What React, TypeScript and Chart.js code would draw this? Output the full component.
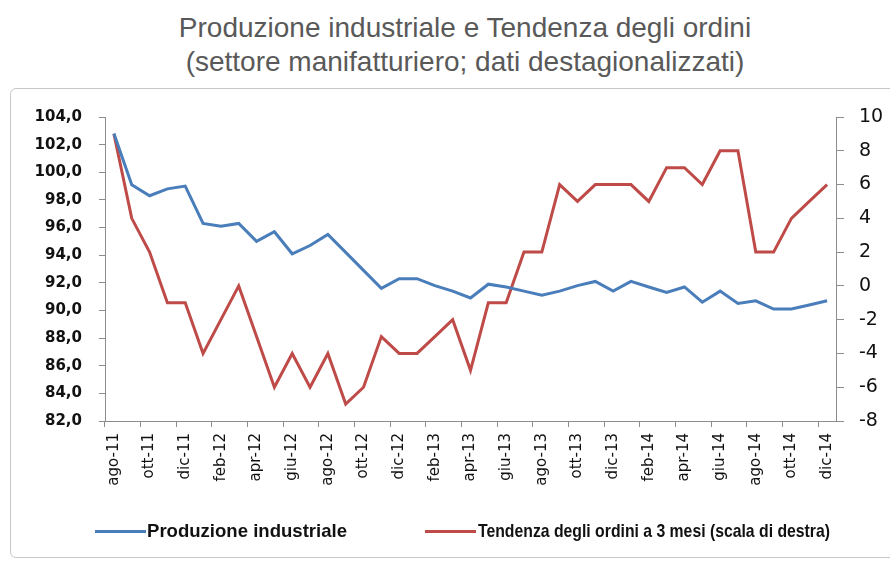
import React, { useEffect, useLayoutEffect, useRef } from "react";
import { Chart, registerables } from "chart.js";

Chart.register(...registerables);

const months: string[] = [
  "ago-11", "set-11", "ott-11", "nov-11", "dic-11",
  "gen-12", "feb-12", "mar-12", "apr-12", "mag-12", "giu-12", "lug-12",
  "ago-12", "set-12", "ott-12", "nov-12", "dic-12",
  "gen-13", "feb-13", "mar-13", "apr-13", "mag-13", "giu-13", "lug-13",
  "ago-13", "set-13", "ott-13", "nov-13", "dic-13",
  "gen-14", "feb-14", "mar-14", "apr-14", "mag-14", "giu-14", "lug-14",
  "ago-14", "set-14", "ott-14", "nov-14", "dic-14",
];

const produzioneIndustriale: number[] = [
  102.8, 99.1, 98.3, 98.8, 99.0,
  96.3, 96.1, 96.3, 95.0, 95.7, 94.1, 94.7,
  95.5, 94.2, 92.9, 91.6, 92.3,
  92.3, 91.8, 91.4, 90.9, 91.9, 91.7, 91.4,
  91.1, 91.4, 91.8, 92.1, 91.4,
  92.1, 91.7, 91.3, 91.7, 90.6, 91.4, 90.5,
  90.7, 90.1, 90.1, 90.4, 90.7,
];

const tendenzaOrdini: number[] = [
  9, 4, 2, -1, -1,
  -4, -2, 0, -3, -6, -4, -6,
  -4, -7, -6, -3, -4,
  -4, -3, -2, -5, -1, -1, 2,
  2, 6, 5, 6, 6,
  6, 5, 7, 7, 6, 8, 8,
  2, 2, 4, 5, 6,
];

const leftTicks = { min: 82, max: 104, step: 2 };
const rightTicks = { min: -8, max: 10, step: 2 };

const titleLines = [
  "Produzione industriale e Tendenza degli ordini",
  "(settore manifatturiero; dati destagionalizzati)",
];
const seriesNames = [
  "Produzione industriale",
  "Tendenza degli ordini a 3 mesi (scala di destra)",
];

const BLUE = "#4a7ebb";
const RED = "#be4b48";
const AXIS = "#8c8c8c";

function FitText(props: { text: string; left: number; width: number; style: React.CSSProperties }) {
  const ref = useRef<HTMLSpanElement | null>(null);
  useLayoutEffect(() => {
    const el = ref.current;
    if (!el) return;
    el.style.transform = "none";
    const w = el.getBoundingClientRect().width;
    if (w > 0) el.style.transform = `scaleX(${props.width / w})`;
  }, [props.text, props.width]);
  return (
    <span
      ref={ref}
      style={{
        ...props.style,
        position: "absolute",
        left: props.left,
        display: "inline-block",
        transformOrigin: "0 50%",
        whiteSpace: "nowrap",
      }}
    >
      {props.text}
    </span>
  );
}

export default function App() {
  const canvasRef = useRef<HTMLCanvasElement | null>(null);

  useEffect(() => {
    const canvas = canvasRef.current;
    if (!canvas) return;
    const chart = new Chart(canvas, {
      type: "line",
      data: {
        labels: months,
        datasets: [
          {
            label: seriesNames[0],
            data: produzioneIndustriale,
            borderColor: BLUE,
            backgroundColor: BLUE,
            borderWidth: 3,
            pointRadius: 0,
            tension: 0,
            yAxisID: "y",
          },
          {
            label: seriesNames[1],
            data: tendenzaOrdini,
            borderColor: RED,
            backgroundColor: RED,
            borderWidth: 3,
            pointRadius: 0,
            tension: 0,
            yAxisID: "y1",
          },
        ],
      },
      options: {
        responsive: false,
        animation: false,
        layout: { padding: { top: 117, left: 0, right: 0, bottom: 61 } },
        plugins: {
          legend: { display: false },
          title: { display: false },
          tooltip: { enabled: false },
        },
        scales: {
          x: {
            type: "category",
            offset: true,
            afterFit: (s: any) => {
              s.height = 80;
            },
            grid: {
              offset: true,
              drawOnChartArea: false,
              drawTicks: true,
              tickLength: 6,
              tickColor: (ctx: any) =>
                typeof ctx.index === "number" && ctx.index % 2 === 0 ? AXIS : "rgba(0,0,0,0)",
            },
            border: { display: true, color: AXIS, width: 1 },
            ticks: {
              autoSkip: false,
              minRotation: 90,
              maxRotation: 90,
              padding: 6,
              color: "#111",
              font: { family: "DejaVu Sans", size: 15 },
              callback: (_v: any, i: number) => (i % 2 === 0 ? months[i] : ""),
            },
          },
          y: {
            position: "left",
            min: leftTicks.min,
            max: leftTicks.max,
            afterFit: (s: any) => {
              s.width = 105;
            },
            grid: { drawOnChartArea: false, drawTicks: true, tickLength: 6, color: AXIS },
            border: { display: true, color: AXIS, width: 1 },
            ticks: {
              stepSize: leftTicks.step,
              padding: 17,
              color: "#111",
              font: { family: "DejaVu Sans", size: 15, weight: "bold" },
              callback: (v: any) => Number(v).toFixed(1).replace(".", ","),
            },
          },
          y1: {
            position: "right",
            min: rightTicks.min,
            max: rightTicks.max,
            afterFit: (s: any) => {
              s.width = 54;
            },
            grid: { drawOnChartArea: false, drawTicks: true, tickLength: 8, color: AXIS },
            border: { display: true, color: AXIS, width: 1 },
            ticks: {
              stepSize: rightTicks.step,
              padding: 15,
              color: "#111",
              font: { family: "DejaVu Sans", size: 19 },
              callback: (v: any) => String(v),
            },
          },
        },
      },
    });
    return () => chart.destroy();
  }, []);

  const legendText: React.CSSProperties = {
    top: 519,
    lineHeight: "24px",
    fontFamily: "'Liberation Sans', Arial, sans-serif",
    fontWeight: "bold",
    fontSize: 19,
    color: "#111",
  };

  return (
    <div
      style={{
        position: "absolute",
        left: 0,
        top: 0,
        width: 890,
        height: 562,
        overflow: "hidden",
        background: "#fff",
      }}
    >
      <div
        style={{
          position: "absolute",
          left: 40,
          top: 11,
          width: 850,
          textAlign: "center",
          fontFamily: "'Liberation Sans', Arial, sans-serif",
          fontSize: 28,
          lineHeight: "34px",
          color: "#595959",
        }}
      >
        <div>{titleLines[0]}</div>
        <div>{titleLines[1]}</div>
      </div>
      <div
        style={{
          position: "absolute",
          left: 10,
          top: 88,
          width: 900,
          height: 470,
          border: "1px solid #c8c8c8",
          borderRadius: 6,
          boxSizing: "border-box",
        }}
      />
      <canvas
        ref={canvasRef}
        width={890}
        height={562}
        style={{ position: "absolute", left: 0, top: 0, width: 890, height: 562 }}
      />
      <div style={{ position: "absolute", left: 95, top: 530, width: 51, height: 3, background: BLUE }} />
      <FitText text={seriesNames[0]} left={147} width={200} style={legendText} />
      <div style={{ position: "absolute", left: 425, top: 530, width: 51, height: 3, background: RED }} />
      <FitText text={seriesNames[1]} left={478} width={352} style={legendText} />
    </div>
  );
}
